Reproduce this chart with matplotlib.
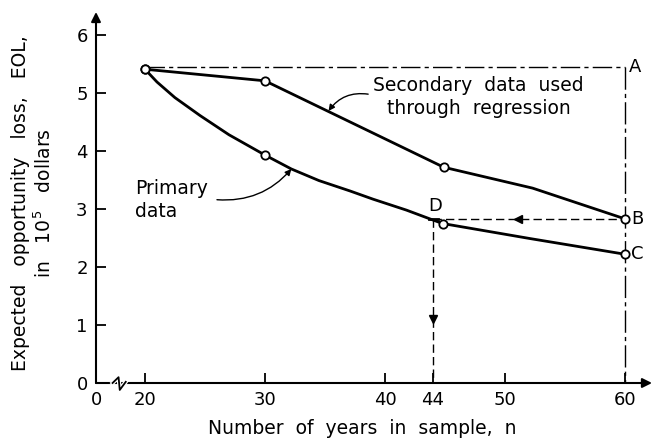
import numpy as np
import matplotlib.pyplot as plt

# values
# primary data curve (traced), circles at n = 20, 30, 44.8, 60
primary_n = [20, 21, 22.5, 24.6, 27, 30, 32.2, 34.5, 37.1, 39.0, 41.8, 44.0, 44.8, 52.1, 60]
primary_eol = [5.41, 5.19, 4.92, 4.61, 4.28, 3.93, 3.69, 3.49, 3.31, 3.17, 2.98, 2.81, 2.75, 2.49, 2.22]
primary_marks = [0, 5, 12, 14]

# secondary data used through regression, circles at n = 20, 30, 44.9, 60
secondary_n = [20, 30, 44.9, 52.3, 60]
secondary_eol = [5.41, 5.21, 3.72, 3.36, 2.83]
secondary_marks = [0, 1, 2, 4]

eol_a = 5.45          # level of point A
eol_b = 2.83          # level of point B (= D)
n_max = 60
n_opt = 44

x_ticks = [15.92, 20, 30, 40, 44, 50, 60]
x_labels = ['0', '20', '30', '40', '44', '50', '60']
y_ticks = [0, 1, 2, 3, 4, 5, 6]

W, H = 653, 443
fig = plt.figure(figsize=(W / 100, H / 100), dpi=100)
ax = fig.add_axes([96 / W, 1 - 383 / H, (652 - 96) / W, (383 - 12) / H])
x0, x1 = 15.92, 15.92 + (652 - 96) / 12
ax.set_xlim(x0, x1)
ax.set_ylim(0, 371 / 58)
for s in ax.spines.values():
    s.set_visible(False)

# axes drawn as arrows
ax.annotate('', xy=(x1, 0), xytext=(x0, 0), annotation_clip=False,
            arrowprops=dict(arrowstyle='-|>', lw=1.5, color='k', mutation_scale=14, shrinkA=0, shrinkB=0))
ax.annotate('', xy=(x0, 371 / 58), xytext=(x0, 0), annotation_clip=False,
            arrowprops=dict(arrowstyle='-|>', lw=1.5, color='k', mutation_scale=14, shrinkA=0, shrinkB=0))

# axis break on the n axis
brk_n = [17.3, 17.8, 17.9, 18.4]
brk_y = [0, 0.1, -0.12, 0.02]
ax.plot(brk_n, brk_y, color='white', lw=3, clip_on=False, zorder=4)
ax.plot(brk_n, brk_y, color='k', lw=1.3, clip_on=False, zorder=5)

ax.set_xticks(x_ticks)
ax.set_xticklabels(x_labels)
ax.set_yticks(y_ticks)
ax.tick_params(direction='in', length=7, width=1.3, labelsize=13, pad=6)

# reference lines: A level, vertical at n = 60, B -> D, D -> axis
ax.plot([20, n_max], [eol_a, eol_a], color='k', lw=1, dashes=(14, 3, 3, 3))
ax.plot([n_max, n_max], [eol_a, 0], color='k', lw=1, dashes=(16, 3, 3, 3))
ax.plot([n_opt, n_max], [eol_b, eol_b], color='k', lw=1, dashes=(6, 3))
ax.plot([n_opt, n_opt], [eol_b, 0], color='k', lw=1, dashes=(6, 3))
ax.plot([51.1], [eol_b], marker='<', color='k', ms=6)
ax.plot([n_opt], [1.1], marker='v', color='k', ms=6)
ax.plot([n_opt - 0.3, n_opt + 0.4], [eol_b, eol_b], color='k', lw=2)

# the two curves
ax.plot(primary_n, primary_eol, color='k', lw=2, marker='o', markevery=primary_marks,
        ms=6, mfc='white', mec='k', mew=1.3, zorder=6, solid_joinstyle='round')
ax.plot(secondary_n, secondary_eol, color='k', lw=2, marker='o', markevery=secondary_marks,
        ms=6, mfc='white', mec='k', mew=1.3, zorder=6, solid_joinstyle='round')

# point labels
ax.text(n_max + 0.3, eol_a, 'A', fontsize=13, va='center', ha='left')
ax.text(n_max + 0.5, eol_b, 'B', fontsize=13, va='center', ha='left')
ax.text(n_max + 0.5, primary_eol[-1], 'C', fontsize=13, va='center', ha='left')
ax.text(n_opt + 0.2, eol_b + 0.07, 'D', fontsize=13, va='bottom', ha='center')

# annotations
ax.text(47.8, 4.93, 'Secondary  data  used\nthrough  regression', fontsize=13.5,
        ha='center', va='center', multialignment='center', linespacing=1.25)
ax.annotate('', xy=(35.3, 4.69), xytext=(38.6, 4.98),
            arrowprops=dict(arrowstyle='-|>', lw=1, color='k', mutation_scale=9,
                            connectionstyle='arc3,rad=0.3', shrinkA=0, shrinkB=0))
ax.text(19.2, 3.16, 'Primary\ndata', fontsize=13.5, ha='left', va='center', linespacing=1.25)
ax.annotate('', xy=(32.2, 3.69), xytext=(26.0, 3.16),
            arrowprops=dict(arrowstyle='-|>', lw=1, color='k', mutation_scale=9,
                            connectionstyle='arc3,rad=0.25', shrinkA=0, shrinkB=0))

fig.text(33 / W, 1 - 203 / H, 'Expected   opportunity   loss,   EOL,\nin   10$^5$   dollars',
         rotation=90, ha='center', va='center', fontsize=13.5, multialignment='center', linespacing=1.15)
fig.text(362 / W, 1 - 429 / H, 'Number  of  years  in  sample,  n', ha='center', va='center', fontsize=13.5)

fig.savefig('out.png', dpi=100)
